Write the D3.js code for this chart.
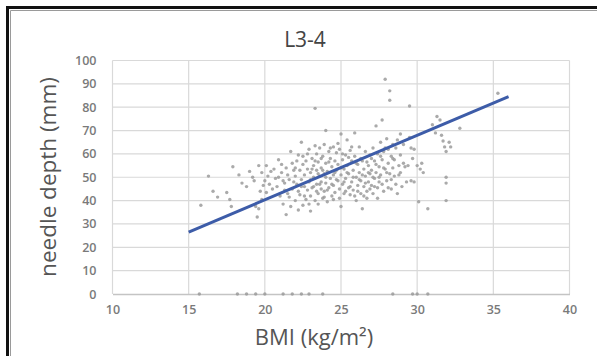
<!DOCTYPE html>
<html>
<head>
<meta charset="utf-8">
<script src="https://cdn.jsdelivr.net/npm/d3@7"></script>
<style>
  html, body { margin: 0; padding: 0; background: #fff; }
  svg { display: block; }
  text { font-family: "Open Sans", "Liberation Sans", sans-serif; }
</style>
</head>
<body>
<svg id="chart" width="597" height="356"></svg>
<script>
// ---- data ----
const chartTitle = "L3-4";
const xTicks = [10, 15, 20, 25, 30, 35, 40];
const yTicks = [0, 10, 20, 30, 40, 50, 60, 70, 80, 90, 100];
const bmi = [
  15.8,16.3,16.6,16.9,17.5,17.7,17.8,17.9,18.3,18.5,18.8,19.0,19.2,19.3,19.4,19.5,19.6,19.7,19.8,19.8,19.9,19.6,
  20.0,20.1,20.1,20.2,20.3,20.4,20.5,20.6,20.7,20.8,20.9,20.9,21.0,21.1,21.2,21.2,21.3,21.4,21.4,21.5,21.6,21.6,21.7,21.7,21.8,21.8,21.9,22.0,22.0,22.1,22.1,22.2,22.2,22.3,22.3,22.4,22.4,22.5,22.5,22.5,22.6,22.6,22.7,22.7,22.8,22.8,22.9,22.9,
  23.0,23.0,23.0,23.1,23.1,23.2,23.2,23.3,23.3,23.3,23.4,23.4,23.4,23.5,23.5,23.5,23.6,23.6,23.7,23.7,23.7,23.8,23.8,23.9,23.9,23.9,
  24.0,24.0,24.0,24.1,24.1,24.2,24.2,24.3,24.3,24.4,24.4,24.5,24.5,24.5,24.6,24.6,24.7,24.7,24.8,24.8,24.9,24.9,
  25.0,25.0,25.0,25.1,25.1,25.2,25.2,25.3,25.3,25.4,25.4,25.5,25.5,25.6,25.6,25.7,25.7,25.8,25.8,25.9,25.9,
  26.0,26.0,26.1,26.1,26.2,26.2,26.3,26.3,26.4,26.4,26.5,26.5,26.6,26.6,26.7,26.7,26.8,26.8,26.9,26.9,
  27.0,27.0,27.1,27.1,27.2,27.2,27.3,27.3,27.4,27.4,27.5,27.5,27.6,27.6,27.7,27.7,27.8,27.8,27.9,27.9,
  28.0,28.0,28.1,28.1,28.2,28.2,28.2,28.3,28.3,28.4,28.4,28.5,28.5,28.6,28.7,28.7,28.8,28.8,28.9,28.9,
  29.0,29.1,29.2,29.3,29.5,29.5,29.6,29.7,29.8,30.0,30.1,30.2,30.3,30.4,30.7,31.0,31.2,31.3,31.5,31.6,31.7,31.8,31.9,31.9,31.9,31.9,32.1,32.2,32.8,35.3,
  21.1,21.3,21.5,21.9,22.0,22.2,22.4,22.6,22.8,22.9,23.0,23.1,23.2,23.3,23.4,23.5,23.6,23.7,23.8,23.9,
  24.0,24.1,24.2,24.3,24.4,24.5,24.6,24.7,24.8,24.9,25.0,25.1,25.2,25.3,25.4,25.5,25.6,25.7,25.8,25.9,
  26.0,26.1,26.2,26.3,26.4,26.5,26.6,26.7,26.8,26.9,27.0,27.1,27.2,27.3,27.4,27.5,27.6,27.7,27.8,27.9,
  28.0,28.1,28.3,28.4,28.6,28.9,29.1,29.4,29.6,29.8,
  15.7,18.2,18.8,19.4,20.0,21.2,21.8,22.4,22.9,23.8,28.4,29.7,30.0,30.7
];
const depth = [
  38,50.5,44,41.5,43.5,40.5,37.5,54.5,51,47.5,46,52.5,50,48.5,37.5,33,36.5,44,52,40.5,46.5,55,
  48.5,55,43.5,50.5,47,52.5,45,53.5,49.5,46,50,57.5,42,52,38.5,48.5,44.5,54,34,51,49,41.5,61,37.5,45,56,53,50.5,40,57,47,36,44,53,42.5,65,49,59,38,55.5,51,46,40.5,57,44.5,53.5,62,48,
  52,35.5,42,58,45.5,55,50,79.5,63.5,40,47,53,60,43,56.5,38.5,50.5,62.5,45,54,48,59,41,51.5,64,44,
  70,56,47.5,52.5,39.5,61,45.5,58,49.5,54.5,42,63,51,46.5,57,43.5,53,60.5,48.5,55.5,45,62,
  51,37.5,68.5,57.5,47,53.5,43,59.5,49.5,66,55,45.5,51.5,61.5,42.5,48,57,53,44.5,69,59,
  50,40,55.5,46.5,63,52,43,48.5,36.5,57,53.5,46,61,50.5,44,41,55,48,59.5,51.5,
  46.5,53,62.5,43,57,49.5,72,52,45.5,60,54.5,48,65,51,74.5,57.5,44,61,92,53.5,
  66.5,48.5,56,62,87,83,51.5,59,45,64,54,57.5,50.5,62.5,66,43,55,51,68.5,59.5,
  46,64,54.5,48,80.5,67,48.5,58,62,55,39.5,53.5,56,52,36.5,72.5,69,76,74.5,68,65.5,63,61,50,47.5,40,65,63,71,86,
  55.5,47.5,43,48,54,59.5,46,42,60,38.5,49,53.5,46,57,44,51.5,47,58,53,41.5,
  50,44.5,56.5,62.5,47,40.5,52,49,64.5,41,54,60,48,44,52,58.5,46,63,50,42,
  56,44,49,58,51,42,47.5,56.5,52,45,58,50,46,55.5,41,50,59,47,54,62.5,
  52,45.5,49,58,47,52,56,55,62.5,48,
  0,0,0,0,0,0,0,0,0,0,0,0,0,0
];
// trend line end points
const trendX = [15, 36];
const trendY = [26.5, 84.5];

// ---- drawing ----
const svg = d3.select("#chart");
const W = 597, H = 356;
const plot = { left: 112.5, right: 569.5, top: 60.5, bottom: 294 };

const x = d3.scaleLinear().domain([10, 40]).range([plot.left, plot.right]);
const y = d3.scaleLinear().domain([0, 100]).range([plot.bottom, plot.top]);

svg.append("rect").attr("width", W).attr("height", H).attr("fill", "#fff");

// outer frame
svg.append("path").attr("d", `M7.5,${H} V7.5 H${W}`).attr("fill", "none")
  .attr("stroke", "#111").attr("stroke-width", 3);
svg.append("path").attr("d", `M10.5,${H} V10.5 H${W}`).attr("fill", "none")
  .attr("stroke", "#9a9a9a").attr("stroke-width", 1);

// gridlines
const grid = svg.append("g");
grid.selectAll("line.h").data(yTicks.filter(d => d > 0)).join("line")
  .attr("x1", plot.left).attr("x2", plot.right)
  .attr("y1", d => y(d)).attr("y2", d => y(d))
  .attr("stroke", "#d9d9d9").attr("stroke-width", 1.2);
grid.selectAll("line.v").data(xTicks).join("line")
  .attr("y1", plot.top).attr("y2", plot.bottom)
  .attr("x1", d => x(d)).attr("x2", d => x(d))
  .attr("stroke", "#d9d9d9").attr("stroke-width", 1.2);

// x axis (bottom line) and labels
const xAxis = svg.append("g").attr("transform", `translate(0,${plot.bottom})`)
  .call(d3.axisBottom(x).tickValues(xTicks).tickSize(0).tickPadding(11));
xAxis.select(".domain").attr("stroke", "#c4c4c4").attr("stroke-width", 1.4);
xAxis.selectAll("text").attr("fill", "#7a7a7a").attr("font-size", 12.5).attr("font-weight", 600);

const yAxis = svg.append("g").attr("transform", `translate(${plot.left},0)`)
  .call(d3.axisLeft(y).tickValues(yTicks).tickSize(0).tickPadding(16));
yAxis.select(".domain").remove();
yAxis.selectAll("text").attr("fill", "#7a7a7a").attr("font-size", 12.5).attr("font-weight", 600);

// points
const pts = bmi.map((b, i) => ({ b, d: depth[i] }));
svg.append("g").selectAll("circle").data(pts).join("circle")
  .attr("cx", p => x(p.b)).attr("cy", p => y(p.d)).attr("r", 1.7)
  .attr("fill", "#9b9b9b").attr("fill-opacity", 0.85);

// trend line
svg.append("line")
  .attr("x1", x(trendX[0])).attr("y1", y(trendY[0]))
  .attr("x2", x(trendX[1])).attr("y2", y(trendY[1]))
  .attr("stroke", "#3d5ca8").attr("stroke-width", 3).attr("stroke-linecap", "butt");

// titles
svg.append("text").attr("x", 305).attr("y", 47).attr("text-anchor", "middle")
  .attr("font-size", 21).attr("fill", "#444").text(chartTitle);
svg.append("text").attr("x", 314).attr("y", 345).attr("text-anchor", "middle")
  .attr("font-size", 22).attr("fill", "#555").text("BMI (kg/m²)");
svg.append("text").attr("transform", "translate(56,177) rotate(-90)").attr("text-anchor", "middle")
  .attr("font-size", 22.5).attr("fill", "#555").text("needle depth (mm)");
</script>
</body>
</html>
